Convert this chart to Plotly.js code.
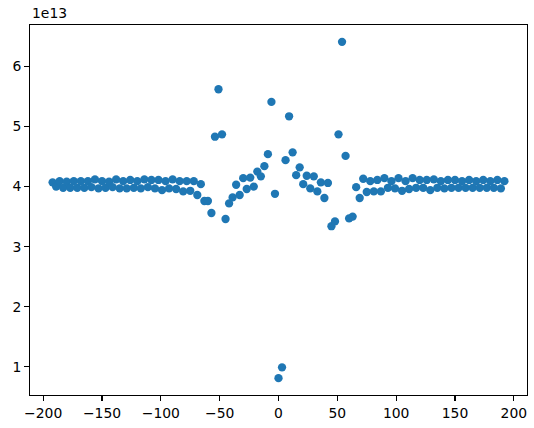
<!DOCTYPE html>
<html>
<head>
<meta charset="utf-8">
<script src="https://cdn.plot.ly/plotly-3.0.1.min.js"></script>
<style>html,body{margin:0;padding:0;background:#fff;}#chart{width:534px;height:428px;}</style>
</head>
<body>
<div id="chart"></div>
<script>
// x positions (step 3 from -192 to 192)
const xLeftHigh = [-192,-186,-180,-174,-168,-162,-156,-150,-144,-138,-132,-126,-120,-114,-108,-102,-96,-90];
const yLeftHigh = [4.07,4.09,4.08,4.09,4.09,4.09,4.12,4.09,4.08,4.12,4.09,4.11,4.09,4.12,4.11,4.11,4.09,4.12];
const xLeftLow = [-189,-183,-177,-171,-165,-159,-153,-147,-141,-135,-129,-123,-117,-111,-105,-99,-93];
const yLeftLow = [4.00,3.98,3.98,3.98,3.98,3.99,3.97,3.98,3.99,3.97,3.97,3.98,3.97,3.99,3.97,3.94,3.97];
const xCenter = [-87,-84,-81,-78,-75,-72,-69,-66,-63,-60,-57,-54,-51,-48,-45,-42,-39,-36,-33,-30,-27,-24,-21,-18,-15,-12,-9,-6,-3,0,3,6,9,12,15,18,21,24,27,30,33,36,39,42,45,48,51,54,57,60,63,66,69,72,75,78,81,84,87];
const yCenter = [3.96,4.09,3.92,4.09,3.93,4.09,3.86,4.04,3.76,3.76,3.56,4.83,5.62,4.87,3.46,3.72,3.82,4.03,3.86,4.14,3.96,4.15,4.00,4.25,4.17,4.34,4.54,5.41,3.88,0.81,0.99,4.44,5.17,4.57,4.19,4.32,4.04,4.18,3.97,4.17,3.92,4.07,3.81,4.06,3.34,3.42,4.87,6.41,4.51,3.47,3.50,3.99,3.81,4.13,3.91,4.09,3.92,4.11,3.92];
const xRightHigh = [90,96,102,108,114,120,126,132,138,144,150,156,162,168,174,180,186,192];
const yRightHigh = [4.14,4.09,4.14,4.09,4.14,4.11,4.11,4.12,4.09,4.11,4.11,4.09,4.11,4.09,4.11,4.09,4.11,4.09];
const xRightLow = [93,99,105,111,117,123,129,135,141,147,153,159,165,171,177,183,189];
const yRightLow = [3.98,3.97,3.93,3.96,3.98,3.98,3.94,3.98,3.97,3.98,3.98,3.98,3.98,3.98,3.98,3.98,3.97];
const xTicks = [-200,-150,-100,-50,0,50,100,150,200];
const yTicks = [1,2,3,4,5,6];

const pairs = [];
function add(xs, ys){ for(let i=0;i<xs.length;i++) pairs.push([xs[i], ys[i]]); }
add(xLeftHigh,yLeftHigh); add(xLeftLow,yLeftLow); add(xCenter,yCenter); add(xRightHigh,yRightHigh); add(xRightLow,yRightLow);
pairs.sort((a,b)=>a[0]-b[0]);
const xs = pairs.map(p=>p[0]);
const ys = pairs.map(p=>p[1]);

const font = {family:'DejaVu Sans', size:13.9, color:'#000'};
const axisCommon = {
  showgrid:false, zeroline:false, showline:true, linecolor:'#000', linewidth:1.1,
  mirror:true, ticks:'outside', ticklen:4.9, tickwidth:1.1, tickcolor:'#000',
  tickfont:font
};
Plotly.newPlot('chart', [{
  type:'scatter', mode:'markers', x:xs, y:ys,
  marker:{size:8.3, color:'#1f77b4', line:{width:0}},
  hoverinfo:'skip'
}], {
  width:534, height:428,
  margin:{l:30, r:7, t:25, b:33, pad:0},
  paper_bgcolor:'#fff', plot_bgcolor:'#fff',
  showlegend:false,
  font:font,
  xaxis:Object.assign({}, axisCommon, {range:[-211.2,211.2], tickvals:xTicks, ticktext:xTicks.map(v=>v<0?'\u2212'+Math.abs(v):String(v))}),
  yaxis:Object.assign({}, axisCommon, {range:[0.53,6.69], tickvals:yTicks, ticktext:yTicks.map(String)}),
  annotations:[{text:'1e13', xref:'paper', yref:'paper', x:0, y:1, xanchor:'left', yanchor:'bottom', showarrow:false, font:font, yshift:2}]
}, {staticPlot:true, displayModeBar:false});
</script>
</body>
</html>
